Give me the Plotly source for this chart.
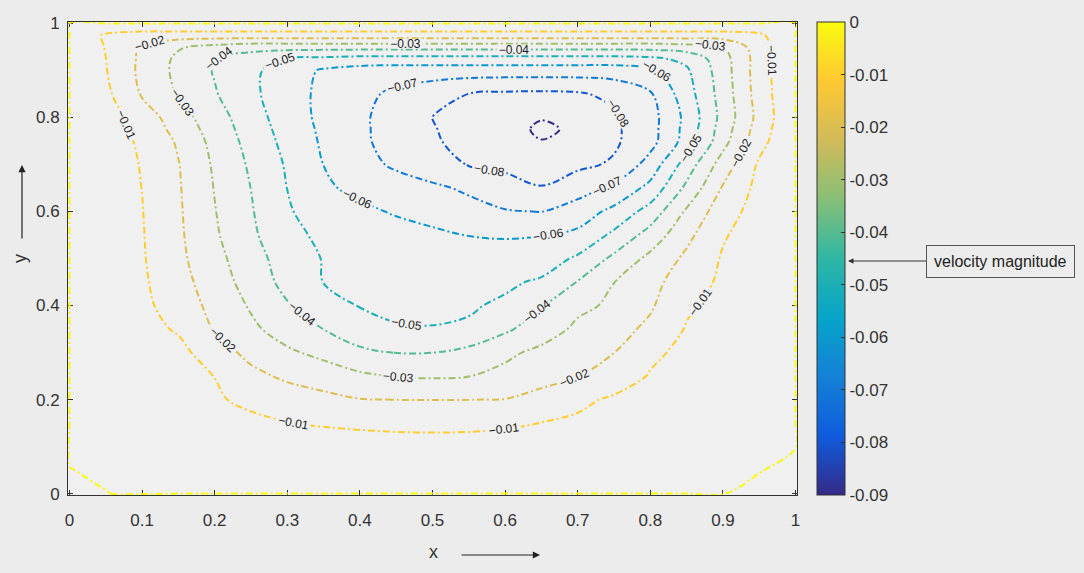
import numpy as np
import plotly.graph_objects as go

# Grid of the stream-function field (x across, y up)
x_grid = [0.0, 0.05, 0.1, 0.15, 0.2, 0.25, 0.3, 0.35, 0.4, 0.45, 0.5,
          0.55, 0.6, 0.65, 0.7, 0.75, 0.8, 0.85, 0.9, 0.95, 1.0]
y_grid = [0.0, 0.05, 0.1, 0.15, 0.2, 0.25, 0.3, 0.35, 0.4, 0.45, 0.5, 0.55,
          0.6, 0.65, 0.7, 0.75, 0.775, 0.8, 0.85, 0.9, 0.925, 0.95, 0.975, 1.0]

# One row of values per y level
psi_y000 = [0.0006, 0.0001, -0.0006, 0, 0, 0, 0, 0, 0, 0, 0, 0, 0, 0, 0, 0, 0, 0, -0.00005, 0.0003, 0.0006]
psi_y005 = [0.0001, -0.0006, -0.0012, -0.0018, -0.0024, -0.0029, -0.0033, -0.0036, -0.0038, -0.0039, -0.004,
            -0.0039, -0.0038, -0.0035, -0.0031, -0.0026, -0.002, -0.0014, -0.0007, -0.00005, 0.0003]
psi_y010 = [-0.0006, -0.0013, -0.0025, -0.0037, -0.005, -0.006, -0.0068, -0.0074, -0.0078, -0.008, -0.0081,
            -0.008, -0.0077, -0.0071, -0.0063, -0.0053, -0.0042, -0.003, -0.0018, -0.0006, -0.00005]
psi_y015 = [0, -0.0017, -0.0033, -0.005, -0.0067, -0.0083, -0.0099, -0.0105, -0.0109, -0.0112, -0.0113,
            -0.0112, -0.0108, -0.0099, -0.0086, -0.0072, -0.0058, -0.0043, -0.0029, -0.0014, 0]
psi_y020 = [0, -0.0023, -0.0045, -0.0068, -0.0091, -0.0117, -0.0145, -0.0172, -0.0197, -0.0201, -0.0202,
            -0.0201, -0.0198, -0.0161, -0.0118, -0.0088, -0.0078, -0.0062, -0.0045, -0.0023, 0]
psi_y025 = [0, -0.0025, -0.005, -0.0075, -0.0101, -0.0172, -0.0219, -0.025, -0.0281, -0.0305, -0.031,
            -0.0302, -0.0276, -0.0241, -0.0203, -0.0147, -0.0094, -0.0075, -0.005, -0.0025, 0]
psi_y030 = [0, -0.0029, -0.0059, -0.0072, -0.015, -0.023, -0.0285, -0.0325, -0.0385, -0.0402, -0.0401,
            -0.037, -0.0318, -0.0279, -0.024, -0.0201, -0.0117, -0.0079, -0.0053, -0.0026, 0]
psi_y035 = [0, -0.0034, -0.0069, -0.011, -0.0207, -0.0281, -0.0343, -0.0401, -0.0445, -0.0494, -0.0497,
            -0.0488, -0.0418, -0.0345, -0.0282, -0.0236, -0.0179, -0.0093, -0.0062, -0.0031, 0]
psi_y040 = [0, -0.0041, -0.0082, -0.0135, -0.0234, -0.031, -0.0392, -0.0456, -0.0505, -0.0515, -0.0516,
            -0.051, -0.0485, -0.0407, -0.032, -0.0285, -0.0212, -0.0114, -0.007, -0.0035, 0]
psi_y045 = [0, -0.0043, -0.0085, -0.0163, -0.0251, -0.034, -0.0431, -0.0502, -0.0518, -0.053, -0.0545,
            -0.0535, -0.0516, -0.0487, -0.0396, -0.0301, -0.0231, -0.0148, -0.0082, -0.0041, 0]
psi_y050 = [0, -0.0045, -0.0091, -0.0177, -0.0269, -0.036, -0.0446, -0.0505, -0.0525, -0.0545, -0.0562,
            -0.057, -0.0566, -0.055, -0.0485, -0.0378, -0.0274, -0.018, -0.0091, -0.0045, 0]
psi_y055 = [0, -0.0047, -0.0094, -0.0183, -0.0287, -0.0378, -0.0485, -0.0511, -0.0534, -0.0557, -0.058,
            -0.0602, -0.0607, -0.0603, -0.0578, -0.0479, -0.036, -0.0226, -0.0109, -0.0052, 0]
psi_y060 = [0, -0.0049, -0.0097, -0.0187, -0.0296, -0.0392, -0.049, -0.0547, -0.0576, -0.0611, -0.0639,
            -0.0667, -0.0694, -0.0702, -0.0654, -0.0573, -0.046, -0.0286, -0.0142, -0.0061, 0]
psi_y065 = [0, -0.005, -0.0101, -0.0191, -0.0304, -0.0401, -0.0501, -0.0583, -0.0627, -0.0652, -0.0682,
            -0.0716, -0.0755, -0.0795, -0.0742, -0.0681, -0.0571, -0.0377, -0.0191, -0.0071, 0]
psi_y070 = [0, -0.0052, -0.0105, -0.0196, -0.0314, -0.0415, -0.0511, -0.0601, -0.0663, -0.0717, -0.0761,
            -0.0805, -0.0825, -0.0845, -0.0821, -0.0788, -0.0661, -0.0455, -0.0254, -0.0086, 0]
psi_y075 = [0, -0.0054, -0.0115, -0.0213, -0.0331, -0.0434, -0.053, -0.0614, -0.0682, -0.0738, -0.079,
            -0.0828, -0.0863, -0.0898, -0.0858, -0.0815, -0.0736, -0.056, -0.0336, -0.0135, 0]
psi_y0775 = [0, -0.0058, -0.0128, -0.0236, -0.0344, -0.0445, -0.054, -0.0619, -0.0683, -0.074, -0.0795,
             -0.0831, -0.0866, -0.0915, -0.0885, -0.0817, -0.0738, -0.0567, -0.0352, -0.0152, 0]
psi_y080 = [0, -0.0061, -0.0141, -0.0259, -0.0357, -0.0456, -0.055, -0.0624, -0.0683, -0.0742, -0.0801,
            -0.0834, -0.0863, -0.0895, -0.0857, -0.0819, -0.0739, -0.0574, -0.0367, -0.0168, 0]
psi_y085 = [0, -0.0077, -0.021, -0.0308, -0.0392, -0.0479, -0.0556, -0.0624, -0.0674, -0.072, -0.076,
            -0.0801, -0.0815, -0.082, -0.0812, -0.0774, -0.071, -0.0544, -0.0357, -0.0155, 0]
psi_y090 = [0, -0.0095, -0.0224, -0.0325, -0.0407, -0.0479, -0.0546, -0.0613, -0.064, -0.0652, -0.0652,
            -0.0652, -0.0652, -0.0652, -0.0652, -0.0652, -0.0625, -0.0514, -0.0347, -0.015, 0]
psi_y0925 = [0, -0.0099, -0.022, -0.032, -0.0401, -0.045, -0.0501, -0.052, -0.0535, -0.0535, -0.0535,
             -0.0535, -0.0535, -0.0535, -0.0535, -0.0535, -0.052, -0.0475, -0.034, -0.0154, 0]
psi_y095 = [0, -0.0105, -0.0215, -0.029, -0.033, -0.036, -0.036, -0.036, -0.036, -0.036, -0.036,
            -0.036, -0.036, -0.036, -0.036, -0.036, -0.036, -0.034, -0.0301, -0.0146, 0]
psi_y0975 = [0, -0.0115, -0.0145, -0.0145, -0.0145, -0.0145, -0.0145, -0.0145, -0.0145, -0.0145, -0.0145,
             -0.0145, -0.0145, -0.0145, -0.0145, -0.0145, -0.0145, -0.0145, -0.0145, -0.012, 0]
psi_y100 = [0, 0, 0, 0, 0, 0, 0, 0, 0, 0, 0, 0, 0, 0, 0, 0, 0, 0, 0, 0, 0]

psi_rows = [psi_y000, psi_y005, psi_y010, psi_y015, psi_y020, psi_y025, psi_y030, psi_y035,
            psi_y040, psi_y045, psi_y050, psi_y055, psi_y060, psi_y065, psi_y070, psi_y075,
            psi_y0775, psi_y080, psi_y085, psi_y090, psi_y0925, psi_y095, psi_y0975, psi_y100]

# Colour range of the field, and the contour level list.
# The level list starts well below the field minimum: those levels stay empty,
# but a longer list makes plotly space the inline labels more densely.
z_min, z_max = -0.09, 0.0
level_start, level_end, level_step = -0.39, 0.0, 0.01
cbar_ticks = [-0.09, -0.08, -0.07, -0.06, -0.05, -0.04, -0.03, -0.02, -0.01, 0.0]
cbar_text = ["-0.09", "-0.08", "-0.07", "-0.06", "-0.05", "-0.04", "-0.03", "-0.02", "-0.01", "0"]
x_ticks = [0, 0.1, 0.2, 0.3, 0.4, 0.5, 0.6, 0.7, 0.8, 0.9, 1]
x_tick_text = ["0", "0.1", "0.2", "0.3", "0.4", "0.5", "0.6", "0.7", "0.8", "0.9", "1"]
y_ticks = [0, 0.2, 0.4, 0.6, 0.8, 1]
y_tick_text = ["0", "0.2", "0.4", "0.6", "0.8", "1"]

parula = [[0.0, "#352a87"], [0.125, "#0f5cdd"], [0.25, "#1481d6"], [0.375, "#06a4ca"],
          [0.5, "#2eb7a4"], [0.625, "#87bf77"], [0.75, "#d1bb59"], [0.875, "#fec832"],
          [1.0, "#f9fb0e"]]

# A thin ring just outside the cavity so the zero level traces the walls
OUTSIDE = 0.01
RING = 0.02
z = np.pad(np.array(psi_rows, dtype=float), 1, constant_values=OUTSIDE)
xs = [-RING] + x_grid + [1 + RING]
ys = [-RING] + y_grid + [1 + RING]

FONT = "Liberation Sans, Arial, Helvetica, sans-serif"

fig = go.Figure()
fig.add_trace(go.Contour(
    x=xs, y=ys, z=z,
    zmin=z_min, zmax=z_max, colorscale=parula, showscale=False,
    autocontour=False,
    contours=dict(start=level_start, end=level_end, size=level_step,
                  coloring="lines", showlabels=True, labelformat=".2~f",
                  labelfont=dict(size=12, color="#1a1a1a", family=FONT)),
    line=dict(width=2, dash="7px,3px,2px,3px", smoothing=1.0),
    hoverinfo="skip",
))

# Continuous colour bar for the same scale
fig.add_trace(go.Scatter(
    x=[None], y=[None], mode="markers", showlegend=False, hoverinfo="skip",
    marker=dict(color=[z_min], cmin=z_min, cmax=z_max, colorscale=parula,
                showscale=True,
                colorbar=dict(x=1.027, xanchor="left", y=0.5, yanchor="middle", len=1,
                              lenmode="fraction", thickness=28, xpad=0, ypad=0,
                              outlinewidth=1, outlinecolor="#333",
                              tickvals=cbar_ticks, ticktext=cbar_text,
                              ticks="inside", ticklen=4, tickcolor="#333",
                              tickfont=dict(size=17, color="#333", family=FONT))),
))

fig.update_layout(
    width=1084, height=573,
    margin=dict(l=68, r=287, t=22, b=78),
    paper_bgcolor="#ececec", plot_bgcolor="#f0f0f0",
    font=dict(family=FONT, size=17, color="#333"),
    showlegend=False,
)
axis_style = dict(ticks="inside", ticklen=5, tickcolor="#333",
                  showline=True, linecolor="#333", linewidth=1, mirror="ticks",
                  showgrid=False, zeroline=False, layer="below traces",
                  tickfont=dict(size=17, color="#333", family=FONT))
fig.update_xaxes(range=[-0.002, 1.002], tickvals=x_ticks, ticktext=x_tick_text,
                 ticklabelstandoff=10, **axis_style)
fig.update_yaxes(range=[-0.003, 1.003], tickvals=y_ticks, ticktext=y_tick_text,
                 ticklabelstandoff=4, **axis_style)

fig.add_annotation(text="x", x=0.5007, y=-0.1205, xref="paper", yref="paper",
                   xanchor="center", yanchor="middle", showarrow=False,
                   font=dict(size=18, color="#333", family=FONT))
fig.add_annotation(text="", x=0.6475, y=-0.1268, xref="paper", yref="paper",
                   showarrow=True, ax=-80, ay=0, arrowhead=2, arrowsize=1.2,
                   arrowwidth=1.2, arrowcolor="#222")
fig.add_annotation(text="y", x=-0.066, y=0.501, xref="paper", yref="paper", textangle=-90,
                   xanchor="center", yanchor="middle", showarrow=False,
                   font=dict(size=18, color="#333", family=FONT))
fig.add_annotation(text="", x=-0.0631, y=0.6977, xref="paper", yref="paper",
                   showarrow=True, ax=0, ay=75, arrowhead=2, arrowsize=1.2,
                   arrowwidth=1.2, arrowcolor="#222")
fig.add_annotation(text="velocity magnitude", x=1.07, y=0.4947, xref="paper", yref="paper",
                   showarrow=True, ax=152, ay=0, arrowhead=2, arrowsize=1.1, arrowwidth=1,
                   arrowcolor="#333", bordercolor="#555", borderwidth=1, borderpad=7,
                   font=dict(size=16, color="#222", family=FONT))

fig.write_html("out.html")
